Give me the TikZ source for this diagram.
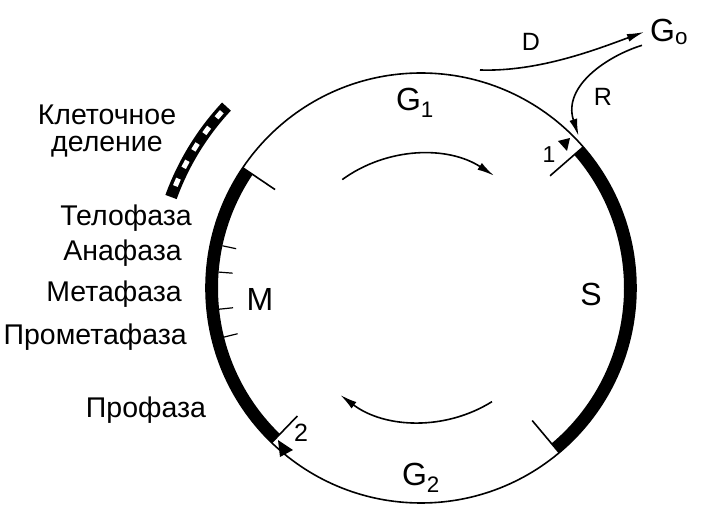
\documentclass[tikz,border=0pt]{standalone}
\usepackage{fontspec}
\setmainfont{Liberation Sans}
\usetikzlibrary{arrows.meta}
\begin{document}
\begin{tikzpicture}[x=1pt,y=1pt,
   lbl/.style={font=\fontsize{28.5}{31}\selectfont,inner sep=0pt},
   phase/.style={font=\fontsize{32}{34}\selectfont,inner sep=0pt},
   small/.style={font=\fontsize{25}{27}\selectfont,inner sep=0pt},
   cyc/.style={line width=1.6pt},
   tip/.style={-{Latex[length=17pt,width=8pt]}}]
   \useasboundingbox (-421,-220) rectangle (281,288);
   % the cycle
   \draw[cyc] (0,0) circle (215);
   \draw[line width=12pt] (41:209) arc (41:-50:209);
   \draw[line width=12pt] (146:209) arc (146:226:209);
   \draw[cyc] (41:215) -- (41:171);
   \draw[cyc] (-50:215) -- (-50:173);
   \draw[cyc] (146:215) -- (146:176);
   \draw[cyc] (226:215) -- (226:178);
   \foreach \a in {168,175.5,186,194}
     \draw[line width=1.2pt] (\a:203) -- (\a:189);
   % cell division bar
   \draw[line width=12pt] (137:266) arc (137:160:266);
   \draw[white,line width=5pt,dash pattern=on 8pt off 12pt] (138.5:266) arc (138.5:158.5:266);
   % direction arrows
   \draw[cyc,tip] (126:134) arc (126:57:134);
   \draw[cyc,tip] (-58:134) arc (-58:-127:134);
   % check points
   \fill (137,147) -- (149,150) -- (146,137) -- cycle;
   \fill (-143,-152) -- (-128,-162) -- (-141,-169) -- cycle;
   % labels
   \node[phase] (g1) at (-6,185) {G\textsubscript{1}};
   \node[phase] (g2) at (0,-190) {G\textsubscript{2}};
   \node[phase,anchor=west] (g0) at (229,256) {G\textsubscript{o}};
   \node[phase] (m) at (-161,-11) {M};
   \node[phase] (s) at (170,-6) {S};
   \node[small] (d) at (110,246) {D};
   \node[small] (r) at (182,191) {R};
   \node[small,font=\fontsize{23}{25}\selectfont] (one) at (128,133) {1};
   \node[small] (two) at (-120,-145) {2};
   \node[lbl] (kl) at (-314,173) {Клеточное};
   \node[lbl] (del) at (-314,141) {деление};
   \node[lbl,anchor=east] (telo) at (-229,70) {Телофаза};
   \node[lbl,anchor=east] (ana) at (-239,35) {Анафаза};
   \node[lbl,anchor=east] (meta) at (-239,-6) {Метафаза};
   \node[lbl,anchor=east] (prometa) at (-234,-49) {Прометафаза};
   \node[lbl] (pro) at (-275,-122) {Профаза};
   % exit and return
   \coordinate (dstart) at (59,218);
   \coordinate (rend) at (44:219);
   \draw[cyc,tip] (dstart) .. controls (119,216) and (179,240) .. ([xshift=-6pt]g0.west);
   \draw[cyc,tip] ([xshift=-8pt]g0.south west) .. controls (189,233) and (141,203) .. (rend);
\end{tikzpicture}
\end{document}
